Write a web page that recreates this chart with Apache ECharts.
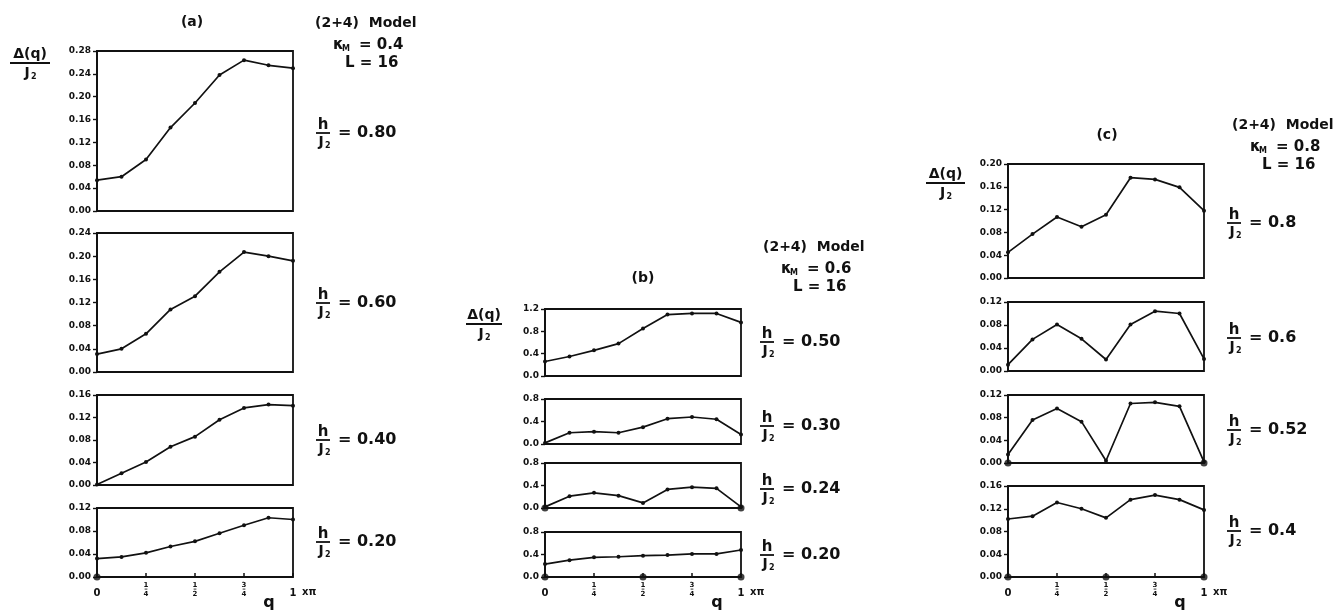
<!doctype html>
<html>
<head>
<meta charset="utf-8">
<title>(2+4) Model - Δ(q)/J2 vs q</title>
<script src="https://cdn.jsdelivr.net/npm/echarts@6/dist/echarts.min.js"></script>
</head>
<body style="margin:0;background:#fff;">
<div id="container" style="width:1335px;height:611px;"></div>
<script>
// wave vector q (units of pi) and the bottom tick labels
var qValues = [0, 0.125, 0.25, 0.375, 0.5, 0.625, 0.75, 0.875, 1];
var qTicks = ['0', '1/4', '1/2', '3/4', '1'];

// (a) kappa_M = 0.4, L = 16
var gapA80 = [0.054, 0.060, 0.090, 0.146, 0.189, 0.238, 0.264, 0.255, 0.250];
var gapA60 = [0.031, 0.040, 0.066, 0.108, 0.131, 0.173, 0.207, 0.200, 0.192];
var gapA40 = [0.001, 0.021, 0.041, 0.068, 0.086, 0.116, 0.137, 0.143, 0.141];
var gapA20 = [0.032, 0.035, 0.042, 0.053, 0.062, 0.076, 0.090, 0.103, 0.100];
// (b) kappa_M = 0.6
var gapB50 = [0.26, 0.35, 0.46, 0.58, 0.85, 1.10, 1.12, 1.12, 0.96];
var gapB30 = [0.02, 0.20, 0.22, 0.20, 0.30, 0.45, 0.48, 0.44, 0.17];
var gapB24 = [0.02, 0.21, 0.27, 0.22, 0.09, 0.33, 0.37, 0.35, 0.02];
var gapB20 = [0.23, 0.30, 0.35, 0.36, 0.38, 0.39, 0.41, 0.41, 0.48];
// (c) kappa_M = 0.8
var gapC80 = [0.045, 0.077, 0.107, 0.090, 0.111, 0.176, 0.173, 0.159, 0.118];
var gapC60 = [0.011, 0.055, 0.081, 0.056, 0.020, 0.081, 0.104, 0.100, 0.021];
var gapC52 = [0.015, 0.076, 0.096, 0.073, 0.004, 0.105, 0.107, 0.100, 0.002];
var gapC40 = [0.102, 0.107, 0.131, 0.120, 0.104, 0.136, 0.144, 0.136, 0.118];

// q where the gap closes (big dots on the axis)
var zerosA20 = [0];
var zerosB24 = [0, 1];
var zerosB20 = [0, 0.5, 1];
var zerosC52 = [0, 1];
var zerosC40 = [0, 0.5, 1];

var FONT = '"DejaVu Sans", sans-serif';
var INK = '#111';

// panel list: data + y range + where the box sits
var panels = [
  {vals: gapA80, max: 0.28, step: 0.04, dec: 2, zeros: [], box: [97, 51, 196, 160], last: false},
  {vals: gapA60, max: 0.24, step: 0.04, dec: 2, zeros: [], box: [97, 233, 196, 139], last: false},
  {vals: gapA40, max: 0.16, step: 0.04, dec: 2, zeros: [], box: [97, 395, 196, 90], last: false},
  {vals: gapA20, max: 0.12, step: 0.04, dec: 2, zeros: zerosA20, box: [97, 508, 196, 69], last: true},
  {vals: gapB50, max: 1.2, step: 0.4, dec: 1, zeros: [], box: [545, 309, 196, 67], last: false},
  {vals: gapB30, max: 0.8, step: 0.4, dec: 1, zeros: [], box: [545, 399, 196, 45], last: false},
  {vals: gapB24, max: 0.8, step: 0.4, dec: 1, zeros: zerosB24, box: [545, 463, 196, 45], last: false},
  {vals: gapB20, max: 0.8, step: 0.4, dec: 1, zeros: zerosB20, box: [545, 532, 196, 45], last: true},
  {vals: gapC80, max: 0.20, step: 0.04, dec: 2, zeros: [], box: [1008, 164, 196, 114], last: false},
  {vals: gapC60, max: 0.12, step: 0.04, dec: 2, zeros: [], box: [1008, 302, 196, 69], last: false},
  {vals: gapC52, max: 0.12, step: 0.04, dec: 2, zeros: zerosC52, box: [1008, 395, 196, 68], last: false},
  {vals: gapC40, max: 0.16, step: 0.04, dec: 2, zeros: zerosC40, box: [1008, 486, 196, 91], last: true}
];

function tickLabel(v) {
  var s = qTicks[Math.round(v * 4)];
  if (s.indexOf('/') < 0) return '{w|' + s + '}';
  var p = s.split('/');
  return '{f|' + p[0] + '}\n{b|–}\n{f|' + p[1] + '}';
}

var grids = [], xAxes = [], yAxes = [], series = [];
panels.forEach(function (p, i) {
  grids.push({
    left: p.box[0], top: p.box[1], width: p.box[2], height: p.box[3],
    show: true, borderColor: INK, borderWidth: 1.8, backgroundColor: 'transparent'
  });
  xAxes.push({
    gridIndex: i, type: 'value', min: 0, max: 1, interval: 0.25,
    axisLine: {show: false},
    splitLine: {show: false},
    axisTick: {show: p.last, inside: true, length: 4, lineStyle: {color: INK, width: 1.5}},
    axisLabel: {
      show: p.last, margin: 5, color: INK, fontFamily: FONT,
      formatter: tickLabel,
      rich: {
        w: {fontSize: 10, fontWeight: 'bold', fontFamily: FONT, color: INK, padding: [6, 0, 0, 0]},
        f: {fontSize: 7, lineHeight: 6, fontWeight: 'bold', fontFamily: FONT, color: INK},
        b: {fontSize: 7, lineHeight: 3, fontWeight: 'bold', fontFamily: FONT, color: INK}
      }
    }
  });
  yAxes.push({
    gridIndex: i, type: 'value', min: 0, max: p.max, interval: p.step,
    axisLine: {show: true, lineStyle: {color: INK, width: 1.8}},
    splitLine: {show: false},
    axisTick: {show: true, length: 4, lineStyle: {color: INK, width: 1.4}},
    axisLabel: {
      margin: 6, color: INK, fontSize: 9, fontWeight: 'bold', fontFamily: FONT,
      formatter: function (v) { return v.toFixed(p.dec); }
    }
  });
  series.push({
    type: 'line', xAxisIndex: i, yAxisIndex: i,
    data: qValues.map(function (q, k) { return [q, p.vals[k]]; }),
    symbol: 'circle', symbolSize: 4, showSymbol: true,
    lineStyle: {color: INK, width: 1.7},
    itemStyle: {color: INK},
    clip: false, animation: false, z: 3
  });
  if (p.zeros.length) {
    series.push({
      type: 'scatter', xAxisIndex: i, yAxisIndex: i,
      data: p.zeros.map(function (q) { return [q, 0]; }),
      symbol: 'circle', symbolSize: 7,
      itemStyle: {color: INK},
      clip: false, animation: false, z: 4
    });
  }
});

// free text pieces
function txt(x, y, s, size, align, weight) {
  return {type: 'text', z: 10, style: {
    x: x, y: y, text: s, fill: INK,
    font: (weight || 'normal') + ' ' + size + 'px ' + FONT,
    align: align || 'left', verticalAlign: 'middle'
  }};
}
function bar(x1, x2, y) {
  return {type: 'line', z: 10, shape: {x1: x1, y1: y, x2: x2, y2: y}, style: {stroke: INK, lineWidth: 1.8}};
}
// "h / J2 = value"
function hLabel(x, y, val) {
  return [
    txt(x + 7, y - 8, 'h', 15, 'center', 'bold'),
    bar(x, x + 14, y),
    txt(x + 5, y + 9, 'J', 14, 'center', 'bold'),
    txt(x + 9, y + 13, '2', 8, 'left', 'bold'),
    txt(x + 22, y, '= ' + val, 16, 'left', 'bold')
  ];
}
// "Δ(q) / J2"
function dLabel(x, y, w) {
  return [
    txt(x + w / 2, y - 9, 'Δ(q)', 14, 'center', 'bold'),
    bar(x, x + w, y),
    txt(x + w / 2 - 3, y + 10, 'J', 14, 'center', 'bold'),
    txt(x + w / 2 + 1, y + 14, '2', 8, 'left', 'bold')
  ];
}
// "(2+4) Model / kappa_M = k / L = 16"
function model(x, y, kappa) {
  return [
    txt(x, y, '(2+4)  Model', 14, 'left', 'bold'),
    txt(x + 18, y + 22, 'κ', 15, 'left', 'bold'),
    txt(x + 27, y + 26, 'M', 8, 'left', 'bold'),
    txt(x + 44, y + 22, '= ' + kappa, 15, 'left', 'bold'),
    txt(x + 30, y + 40, 'L = 16', 15, 'left', 'bold')
  ];
}
function qAxis(x0, x1, y) {
  return [
    txt(x1 + 9, y, 'xπ', 10, 'left', 'bold'),
    txt(x0 + 172, y + 11, 'q', 16, 'center', 'bold')
  ];
}

var graphics = [].concat(
  [txt(192, 22, '(a)', 14, 'center', 'bold')],
  model(315, 23, '0.4'),
  dLabel(10, 63, 40),
  hLabel(316, 133, '0.80'), hLabel(316, 303, '0.60'), hLabel(316, 440, '0.40'), hLabel(316, 542, '0.20'),
  qAxis(97, 293, 592),

  [txt(643, 278, '(b)', 14, 'center', 'bold')],
  model(763, 247, '0.6'),
  dLabel(466, 324, 36),
  hLabel(760, 342, '0.50'), hLabel(760, 426, '0.30'), hLabel(760, 489, '0.24'), hLabel(760, 555, '0.20'),
  qAxis(545, 741, 592),

  [txt(1107, 135, '(c)', 14, 'center', 'bold')],
  model(1232, 125, '0.8'),
  dLabel(926, 183, 39),
  hLabel(1227, 223, '0.8'), hLabel(1227, 338, '0.6'), hLabel(1227, 430, '0.52'), hLabel(1227, 531, '0.4'),
  qAxis(1008, 1204, 592)
);

var option = {
  backgroundColor: '#fff',
  animation: false,
  grid: grids,
  xAxis: xAxes,
  yAxis: yAxes,
  series: series,
  graphic: graphics
};

var myChart = echarts.init(document.getElementById('container'));
myChart.setOption(option);
</script>
</body>
</html>
